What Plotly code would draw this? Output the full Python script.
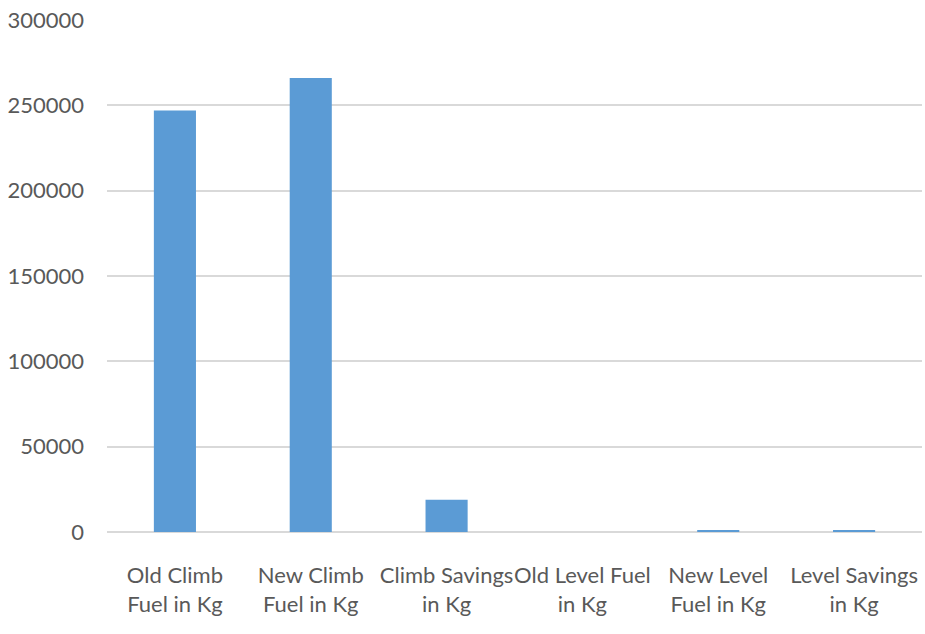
import plotly.graph_objects as go

# Fuel figures (kg) per category
categories = [
    "Old Climb<br>Fuel in Kg",
    "New Climb<br>Fuel in Kg",
    "Climb Savings<br>in Kg",
    "Old Level Fuel<br>in Kg",
    "New Level<br>Fuel in Kg",
    "Level Savings<br>in Kg",
]
fuel_kg = [247000, 266000, 18900, 0, 1200, 1200]
y_ticks = [0, 50000, 100000, 150000, 200000, 250000, 300000]

FONT = "Lato, Liberation Sans, sans-serif"
TEXT = "#595959"
GRID = "#d9d9d9"

fig = go.Figure(
    go.Bar(
        x=categories,
        y=fuel_kg,
        marker=dict(color="#5b9bd5", line=dict(width=0)),
        width=0.31,
    )
)

fig.update_layout(
    width=925,
    height=634,
    margin=dict(l=107, r=3, t=20, b=102),
    paper_bgcolor="white",
    plot_bgcolor="white",
    showlegend=False,
    font=dict(family=FONT, size=22, color=TEXT),
)

fig.update_xaxes(
    showgrid=False,
    showline=False,
    ticks="",
    tickfont=dict(family=FONT, size=22, color=TEXT),
    ticklabelstandoff=28,
    automargin=False,
    tickangle=0,
)

fig.update_yaxes(
    range=[0, 300000],
    tickvals=y_ticks,
    ticktext=[str(v) for v in y_ticks],
    showgrid=True,
    gridcolor=GRID,
    gridwidth=2,
    zeroline=True,
    zerolinecolor=GRID,
    zerolinewidth=2,
    showline=False,
    ticks="",
    tickfont=dict(family=FONT, size=22, color=TEXT),
    ticklabelstandoff=22,
    automargin=False,
)

fig.write_html("out.html")
